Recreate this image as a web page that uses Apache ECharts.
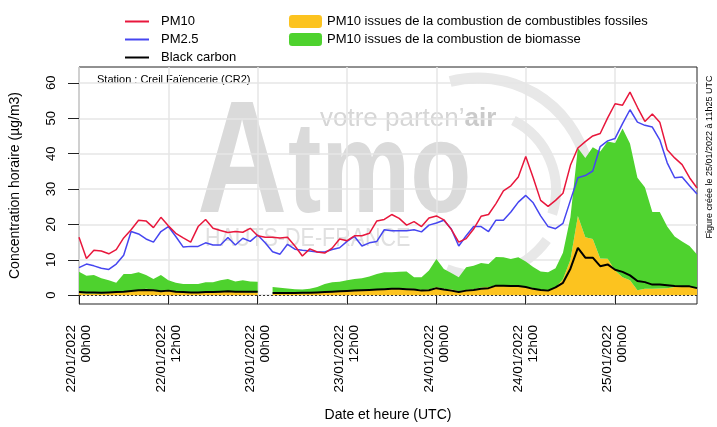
<!DOCTYPE html>
<html>
<head>
<meta charset="utf-8">
<script src="https://cdn.jsdelivr.net/npm/echarts@6/dist/echarts.min.js"></script>
<style>
html, body { margin: 0; padding: 0; background: #fff; }
#chart { width: 717px; height: 427px; }
</style>
</head>
<body>
<div id="chart"></div>
<script>
// hourly values, 22/01/2022 00h00 -> 25/01/2022 11h00 (UTC)
var pm10 = [16.4, 10.4, 12.7, 12.5, 11.7, 12.9, 16.2, 18.5, 21.2, 21.0, 19.1, 22.0,
  19.6, 17.5, 16.2, 15.0, 19.4, 21.4, 18.9, 18.3, 17.7, 18.0, 17.8, 18.9,
  16.8, 16.4, 16.4, 16.2, 16.4, 13.9, 11.1, 13.1, 12.2, 11.9, 13.3, 15.9,
  15.4, 16.8, 16.8, 17.5, 21.0, 21.4, 22.8, 21.7, 19.8, 20.8, 19.4, 21.8,
  22.4, 21.3, 18.6, 15.0, 16.0, 18.7, 22.3, 22.8, 25.9, 29.5, 30.9, 33.4,
  39.2, 33.2, 26.8, 25.1, 26.8, 28.8, 36.7, 41.6, 43.4, 45.0, 45.7, 50.1,
  54.1, 53.7, 57.4, 53.1, 49.1, 51.2, 48.9, 41.1, 38.8, 36.9, 33.2, 30.3];
var pm25 = [7.8, 8.8, 8.3, 7.6, 7.3, 8.8, 11.3, 18.0, 17.3, 15.9, 15.0, 18.0,
  19.4, 16.6, 13.6, 13.8, 13.8, 14.8, 14.2, 14.2, 16.3, 14.2, 16.1, 15.2,
  17.0, 14.8, 12.3, 11.6, 14.4, 13.0, 12.7, 12.5, 12.2, 12.2, 12.9, 13.4,
  15.2, 16.6, 13.9, 14.8, 15.2, 18.5, 18.2, 18.2, 18.2, 18.5, 17.9, 19.8,
  20.4, 21.2, 18.7, 13.9, 16.8, 19.4, 19.4, 18.0, 21.2, 21.2, 23.5, 26.3,
  28.2, 26.1, 22.4, 19.4, 18.8, 20.3, 26.8, 33.2, 33.8, 35.1, 42.0, 43.6,
  44.3, 48.5, 52.4, 48.9, 48.0, 47.5, 43.9, 37.4, 33.2, 33.4, 30.9, 28.6];
var blackCarbon = [0.9, 0.8, 0.8, 0.7, 0.8, 0.9, 1.0, 1.2, 1.4, 1.5, 1.4, 1.1,
  1.3, 1.0, 0.9, 0.8, 0.8, 0.9, 0.9, 1.0, 1.1, 1.0, 1.0, 1.0,
  1.0, null, 0.6, 0.6, 0.6, 0.6, 0.7, 0.7, 0.8, 0.9, 1.0, 1.1,
  1.2, 1.3, 1.4, 1.5, 1.6, 1.7, 1.8, 1.8, 1.7, 1.6, 1.3, 1.4,
  2.0, 1.6, 1.3, 0.9, 1.3, 1.5, 1.8, 2.0, 2.7, 2.7, 2.6, 2.6,
  2.3, 1.8, 1.5, 1.3, 2.2, 3.5, 7.5, 13.4, 10.6, 10.6, 8.2, 8.7,
  7.2, 6.6, 5.6, 4.0, 3.7, 3.0, 3.0, 2.8, 2.6, 2.5, 2.5, 2.0];
var fossil = [0.6, 0.5, 0.5, 0.5, 0.6, 0.7, 0.9, 1.2, 1.5, 1.8, 1.6, 1.2,
  1.4, 1.0, 0.8, 0.7, 0.7, 0.8, 0.8, 0.9, 1.1, 1.0, 0.9, 0.8,
  0.8, null, 0.5, 0.5, 0.5, 0.5, 0.5, 0.6, 0.7, 0.8, 0.9, 1.0,
  1.1, 1.2, 1.3, 1.4, 1.6, 1.8, 2.0, 2.0, 1.9, 1.8, 1.5, 1.6,
  2.3, 1.8, 1.6, 1.2, 1.5, 1.7, 2.2, 2.3, 2.8, 2.8, 2.7, 2.7,
  2.4, 2.0, 1.4, 1.3, 2.2, 4.5, 10.0, 22.4, 16.4, 15.9, 10.4, 10.3,
  7.0, 5.1, 4.2, 1.4, 1.8, 1.8, 1.9, 2.0, 2.3, 2.3, 2.3, 1.8];
var biomass = [6.0, 5.0, 5.2, 4.3, 3.6, 2.8, 5.1, 4.8, 5.0, 3.9, 3.0, 4.5,
  2.8, 2.5, 2.4, 2.5, 2.5, 2.9, 2.9, 3.3, 3.5, 2.9, 3.3, 3.1,
  3.0, null, 1.8, 1.6, 1.4, 1.2, 1.1, 1.2, 1.6, 2.4, 2.8, 2.8,
  3.1, 3.4, 3.5, 3.9, 4.4, 4.7, 4.5, 4.6, 4.8, 3.3, 3.6, 5.4,
  7.9, 5.6, 4.7, 3.9, 6.4, 6.6, 6.9, 6.5, 8.0, 7.9, 7.5, 8.0,
  7.1, 6.0, 5.3, 5.2, 5.4, 7.5, 12.0, 19.2, 22.4, 25.9, 30.2, 33.1,
  36.0, 42.0, 38.7, 31.8, 28.7, 21.7, 21.6, 17.4, 14.3, 12.9, 11.6, 9.7];

var tickLabels = ['22/01/2022\n00h00', '22/01/2022\n12h00', '23/01/2022\n00h00',
  '23/01/2022\n12h00', '24/01/2022\n00h00', '24/01/2022\n12h00', '25/01/2022\n00h00'];
var yTicks = [0, 10, 20, 30, 40, 50, 60];

var FONT = 'Liberation Sans, Arial, sans-serif';

// one category per hour
var hours = [];
for (var i = 0; i < pm10.length; i++) hours.push(String(i));

var chart = echarts.init(document.getElementById('chart'));

function areaSeries(name, data, color) {
  return {
    name: name, type: 'line', data: data, stack: 'sources',
    showSymbol: false, symbol: 'none', connectNulls: false,
    lineStyle: { width: 0, color: color }, itemStyle: { color: color },
    areaStyle: { color: color, opacity: 1 }
  };
}
function lineSeries(name, data, color, width, z) {
  return {
    name: name, type: 'line', data: data, z: z,
    showSymbol: false, symbol: 'none', connectNulls: false,
    lineStyle: { width: width, color: color }, itemStyle: { color: color }
  };
}

var bc = lineSeries('Black carbon', blackCarbon, '#000', 2, 3);
bc.markLine = {
  silent: true, symbol: 'none', label: { show: false },
  lineStyle: { type: [2, 2], color: '#333', width: 1 },
  data: [{ yAxis: 0 }]
};

chart.setOption({
  animation: false,
  textStyle: { fontFamily: FONT },
  grid: { left: 79, right: 20, top: 67, bottom: 118, show: true, borderColor: '#222', borderWidth: 1 },
  legend: [{
    data: ['PM10', 'PM2.5', 'Black carbon'],
    orient: 'vertical', left: 125, top: 14, padding: 0, icon: 'rect',
    itemWidth: 24, itemHeight: 2, itemGap: 3,
    textStyle: { fontSize: 13, color: '#000', lineHeight: 15, padding: [0, 0, 0, 7], fontFamily: FONT }
  }, {
    data: ['PM10 issues de la combustion de combustibles fossiles', 'PM10 issues de la combustion de biomasse'],
    orient: 'vertical', left: 289, top: 14, padding: 0, icon: 'roundRect',
    itemWidth: 33, itemHeight: 13, itemGap: 3,
    textStyle: { fontSize: 13, color: '#000', lineHeight: 15, fontFamily: FONT }
  }],
  xAxis: {
    type: 'category', data: hours, boundaryGap: false,
    name: 'Date et heure (UTC)', nameLocation: 'middle', nameGap: 104,
    nameTextStyle: { fontSize: 14, color: '#000', fontFamily: FONT },
    axisLine: { show: false },
    axisTick: { interval: 11, length: 9, lineStyle: { color: '#222' } },
    axisLabel: {
      interval: 11, rotate: 90, margin: 21, fontSize: 13.5, color: '#000', lineHeight: 15,
      formatter: function (v, idx) { return tickLabels[idx / 12]; }
    },
    splitLine: { show: true, interval: 11, lineStyle: { color: '#e6e6e6', width: 1.5 } }
  },
  yAxis: {
    type: 'value', min: -2.48, max: 64.48,
    name: 'Concentration horaire (µg/m3)', nameLocation: 'middle', nameGap: 57, nameRotate: 90,
    nameTextStyle: { fontSize: 14, color: '#000', fontFamily: FONT },
    axisLine: { show: false },
    axisTick: { show: true, length: 11, customValues: yTicks, lineStyle: { color: '#222' } },
    axisLabel: { customValues: yTicks, rotate: 90, margin: 21, fontSize: 13, color: '#000' },
    splitLine: { show: true, lineStyle: { color: '#e6e6e6', width: 1.5 } }
  },
  graphic: [
    // watermark logo
    { type: 'text', left: 197, top: 88, z: -10, silent: true, scaleX: 0.78,
      style: { text: 'A', fontSize: 160, fontWeight: 'bold', fontFamily: FONT, fill: '#dadada' } },
    { type: 'text', left: 288, top: 111, z: -10, silent: true, scaleX: 0.77,
      style: { text: 'tmo', fontSize: 130, fontWeight: 'bold', fontFamily: FONT, fill: '#dadada' } },
    { type: 'text', left: 320, top: 106, z: -9, silent: true,
      style: { text: "{a|votre parten\u2019}{b|air}", fontFamily: FONT,
        rich: { a: { fontSize: 26, fill: '#d6d6d6' }, b: { fontSize: 26, fontWeight: 'bold', fill: '#cacaca' } } } },
    { type: 'text', left: 205, top: 227, z: -10, silent: true, scaleX: 0.86,
      style: { text: 'HAUTS-DE-FRANCE', fontSize: 25, fontFamily: FONT, fill: '#e0e0e0' } },
    { type: 'arc', z: -10, silent: true,
      shape: { cx: 478, cy: 190, r: 112, startAngle: -Math.PI * 0.58, endAngle: -Math.PI * 0.02 },
      style: { stroke: '#e8e8e8', lineWidth: 11, fill: null } },
    { type: 'arc', z: -10, silent: true,
      shape: { cx: 478, cy: 190, r: 78, startAngle: -Math.PI * 0.35, endAngle: Math.PI * 0.1 },
      style: { stroke: '#e8e8e8', lineWidth: 10, fill: null } },
    { type: 'arc', z: -10, silent: true,
      shape: { cx: 478, cy: 190, r: 85, startAngle: Math.PI * 0.2, endAngle: Math.PI * 0.62 },
      style: { stroke: '#e8e8e8', lineWidth: 10, fill: null } },
    { type: 'text', left: 97, top: 74, silent: true,
      style: { text: 'Station : Creil Faïencerie (CR2)', fontSize: 11, fontFamily: FONT, fill: '#000' } },
    { type: 'text', x: 710, y: 157, rotation: Math.PI / 2, silent: true,
      style: { text: 'Figure créée le 25/01/2022 à 11h25 UTC', fontSize: 9, fontFamily: FONT, fill: '#000',
        align: 'center', verticalAlign: 'middle' } }
  ],
  series: [
    areaSeries('PM10 issues de la combustion de combustibles fossiles', fossil, '#fcc31f'),
    areaSeries('PM10 issues de la combustion de biomasse', biomass, '#4ed22e'),
    bc,
    lineSeries('PM2.5', pm25, '#4646f0', 1.5, 4),
    lineSeries('PM10', pm10, '#e8173c', 1.5, 5)
  ]
});
</script>
</body>
</html>
